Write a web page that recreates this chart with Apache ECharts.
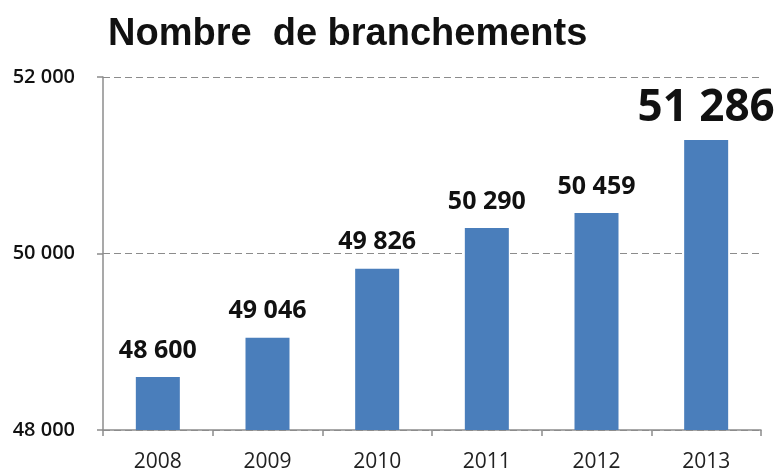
<!DOCTYPE html>
<html>
<head>
<meta charset="utf-8">
<script src="https://cdn.jsdelivr.net/npm/echarts@6/dist/echarts.min.js"></script>
<style>
  html, body { margin: 0; padding: 0; background: #fff; }
  #chart { width: 776px; height: 473px; }
</style>
</head>
<body>
<div id="chart"></div>
<script>
// données
var years = ['2008', '2009', '2010', '2011', '2012', '2013'];
var branchements = [48600, 49046, 49826, 50290, 50459, 51286];
var yTicks = [48000, 50000, 52000];

function fmt(v) {
    // séparateur de milliers : espace
    return String(v).replace(/\B(?=(\d{3})+(?!\d))/g, ' ');
}

var chart = echarts.init(document.getElementById('chart'));

var seriesData = branchements.map(function (v, i) {
    var last = i === branchements.length - 1;
    return {
        value: v,
        label: last ? { fontSize: 44, distance: 10 } : {}
    };
});

var option = {
    backgroundColor: '#fff',
    animation: false,
    title: {
        text: 'Nombre  de branchements',
        left: 103,
        top: 11,
        textStyle: {
            fontFamily: 'Liberation Sans',
            fontWeight: 'bold',
            fontSize: 38,
            color: '#111'
        }
    },
    grid: {
        left: 103,
        right: 15,
        top: 77,
        bottom: 41
    },
    xAxis: {
        type: 'category',
        data: years,
        axisLine: { lineStyle: { color: '#8c8c8c', width: 1.5 } },
        axisTick: { show: true, length: 6, lineStyle: { color: '#8c8c8c', width: 1.5 } },
        axisLabel: {
            fontFamily: 'Open Sans',
            fontSize: 21,
            color: '#222',
            margin: 22
        }
    },
    yAxis: {
        type: 'value',
        min: yTicks[0],
        max: yTicks[yTicks.length - 1],
        interval: 2000,
        axisLine: { show: true, lineStyle: { color: '#8c8c8c', width: 1.5 } },
        axisTick: { show: true, length: 6, lineStyle: { color: '#8c8c8c', width: 1.5 } },
        splitLine: { lineStyle: { type: [7, 4], color: '#8c8c8c', width: 1 } },
        axisLabel: {
            formatter: fmt,
            fontFamily: 'Open Sans',
            fontWeight: 600,
            fontSize: 20,
            color: '#111',
            margin: 28
        }
    },
    series: [
        {
            type: 'bar',
            data: seriesData,
            barWidth: 44,
            itemStyle: { color: '#4a7ebb' },
            label: {
                show: true,
                position: 'top',
                distance: 14,
                formatter: function (p) { return fmt(p.value); },
                fontFamily: 'Open Sans',
                fontWeight: 'bold',
                fontSize: 25,
                color: '#111'
            }
        }
    ]
};

chart.setOption(option);
</script>
</body>
</html>
